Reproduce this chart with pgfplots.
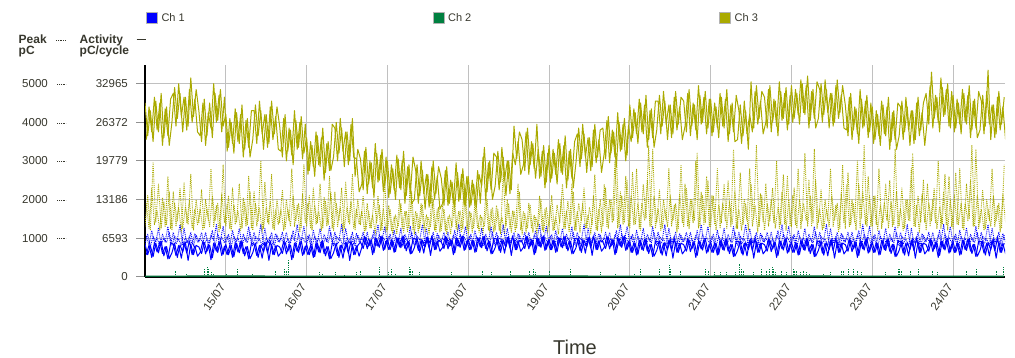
\documentclass[border=0pt]{standalone}
\usepackage{fontspec}
\setmainfont{Liberation Sans}
\usepackage{pgfplots}
\pgfplotsset{compat=1.18}
\usepackage{pgfplotstable}
\definecolor{chone}{RGB}{0,0,255}
\definecolor{chtwo}{RGB}{0,128,64}
\definecolor{chthree}{RGB}{170,170,0}
\definecolor{txt}{RGB}{55,55,45}
\definecolor{gridc}{RGB}{192,192,192}
\newcommand\ydots{\raisebox{3pt}{\tikz\draw[txt, line width=0.6pt, dash pattern=on 0.6pt off 1.2pt] (0pt,0pt)--(9pt,0pt);}}
\newcommand\ylab[3]{\makebox[33pt][r]{#1}\hspace{9pt}\makebox[9pt][l]{#2}\makebox[62pt][r]{#3}}
% samples every 48 min from 14/07 00:00 (table A) and 24 min later (table B)
% columns: a3 = Ch 3 activity (on the Peak scale), p3 = Ch 3 peak, a1 = Ch 1 activity, p1 = Ch 1 peak
\pgfplotstableread{
a3 p3 a1 p1
4500 1300 840 850
3650 2100 570 1100
4300 1200 800 780
3500 2950 520 1050
4550 1400 870 900
3750 2400 620 1250
4750 1250 920 820
3600 1950 540 1000
4400 1350 780 880
3400 2200 470 1150
4000 1200 620 800
4900 1900 870 1050
4100 1450 500 950
4750 2300 820 1350
3750 1250 640 830
4650 1800 900 1000
3900 1350 420 870
5150 2650 840 1150
4150 1200 570 790
4850 2000 810 1080
4300 1400 770 900
3500 2250 600 1150
4600 1250 890 820
3650 1750 660 980
4500 1300 820 860
3600 2100 490 1200
4750 1450 860 800
4050 1900 630 1100
4850 1250 930 940
3900 2900 580 1300
4200 1300 840 850
3350 2100 570 1100
4000 1200 800 780
3200 1850 520 1050
4250 1400 870 900
3450 2400 620 1250
4450 1250 920 820
3300 1950 540 1000
4100 1350 780 880
3100 2200 470 1150
3550 1200 620 800
4450 1900 870 1050
3650 1450 500 950
4300 3000 820 1350
3300 1250 640 830
4200 1800 900 1000
3450 1350 420 870
4550 2650 840 1150
3700 1200 570 790
4400 2000 810 1080
3900 1400 770 900
3100 2250 600 1150
4200 1250 890 820
3250 1750 660 980
3800 1300 820 860
2900 2100 490 1200
4050 1450 860 800
3350 1900 630 1100
4150 1250 930 940
3200 2900 580 1300
3600 1300 840 850
2750 2100 570 1100
3400 1200 800 780
2600 1850 520 1050
3650 1400 870 900
2850 2400 620 1250
3850 1250 920 820
2700 1950 540 1000
3500 1350 780 880
2750 2200 470 1150
3100 1200 620 800
4000 1900 870 1050
3200 1450 500 950
3850 2300 820 1350
2850 1250 640 830
3750 1800 900 1000
3000 1350 420 870
4100 2650 840 1150
2600 1200 570 790
3300 2000 810 1080
3050 1350 900 900
2250 2100 730 1150
3350 1200 1020 820
2400 1700 790 980
2950 1250 950 860
2050 2000 620 1200
3200 1400 990 800
2500 1850 760 1100
3300 1200 1060 940
2350 2500 710 1300
3000 1200 970 850
2150 1750 700 1100
2800 1100 930 780
2000 1600 650 1050
3050 1300 1000 900
2250 1900 750 1250
3250 1150 1050 820
2100 1700 670 1000
2900 1250 910 880
1900 2200 600 1150
2000 1100 750 800
2900 1650 1000 1050
2100 1250 630 950
2750 1850 950 1350
1750 1150 770 830
2650 1550 1030 1000
1900 1300 550 870
3000 2000 970 1150
2150 1150 700 790
2850 1800 940 1080
2550 1200 900 900
1850 1750 730 1150
2850 1100 1020 820
1900 1600 790 980
2450 1300 950 860
1800 1900 620 1200
2700 1150 990 800
2000 1700 760 1100
2800 1250 1060 940
1850 2200 710 1300
2600 1100 970 850
1850 1650 700 1100
2400 1250 930 780
1800 1850 650 1050
2650 1150 1000 900
2350 1550 750 1250
3350 1300 1050 820
2200 2000 670 1000
3000 1150 910 880
2000 1800 600 1150
2350 1200 750 800
3250 1750 1000 1050
2450 1100 630 950
3100 2700 950 1350
2100 1300 770 830
3000 1900 1030 1000
2250 1150 550 870
3900 1700 970 1150
3050 1250 700 790
3750 2200 940 1080
3550 1100 900 900
2750 1650 730 1150
3850 1250 1020 820
2900 1850 790 980
3450 1150 950 860
2550 1550 620 1200
3300 1300 990 800
2600 2000 760 1100
3400 1150 1060 940
2450 1800 710 1300
3400 1300 970 850
2550 2100 700 1100
3200 1200 930 780
2400 1850 650 1050
3450 1400 1000 900
2650 2400 750 1250
3650 1250 1050 820
2500 1950 670 1000
3300 1350 910 880
2300 2200 600 1150
2950 1200 750 800
3850 1900 1000 1050
3050 1450 630 950
3700 2300 950 1350
2700 1250 770 830
3600 1800 1030 1000
2850 1350 550 870
3950 2650 970 1150
3100 1200 700 790
3800 2000 940 1080
3850 1300 900 900
3050 2300 730 1150
4150 1250 1020 820
3200 2000 790 980
3750 1450 950 860
2850 3200 620 1200
4000 1300 990 800
3300 2100 760 1100
4100 1400 1060 940
3150 2500 710 1300
4450 1250 900 850
3600 2700 630 1100
4250 1350 860 780
3450 1900 580 1050
4500 1200 930 900
3700 2400 680 1250
4700 1500 980 820
3550 3400 600 1000
4350 1300 840 880
3350 2100 530 1150
3800 1400 680 800
4700 2250 930 1050
3900 1250 560 950
4550 1750 880 1350
3550 1300 700 830
4450 2100 960 1000
3700 1450 480 870
4800 1900 900 1150
3950 1250 630 790
4650 2900 870 1080
4550 1300 830 900
3750 2300 660 1150
4850 1250 950 820
3900 2000 720 980
4450 1450 880 860
3550 3200 550 1200
4700 1300 920 800
4000 2100 690 1100
4800 1400 990 940
3850 2500 640 1300
4600 1300 900 850
3750 2100 630 1100
4400 1200 860 780
3600 1850 580 1050
4650 1400 930 900
3850 2400 680 1250
4850 1250 980 820
3700 1950 600 1000
4500 1350 840 880
3500 2200 530 1150
3550 1250 680 800
4450 2700 930 1050
3650 1350 560 950
4300 1900 880 1350
3300 1200 700 830
5050 2400 960 1000
3850 1500 480 870
4950 3400 900 1150
4100 1300 630 790
4800 2100 870 1080
4650 1200 830 900
3850 1900 660 1150
4950 1450 950 820
4000 2300 720 980
4550 1250 880 860
3650 1800 550 1200
4800 1350 920 800
4100 2650 690 1100
4900 1200 990 940
3950 2000 640 1300
4950 1300 900 850
4100 2300 630 1100
4750 1250 860 780
3950 2000 580 1050
5000 1450 930 900
4200 3200 680 1250
5200 1300 980 820
4050 2100 600 1000
4850 1400 840 880
3850 2500 530 1150
4100 1400 680 800
5000 2250 930 1050
4200 1250 560 950
4850 1750 880 1350
3850 1300 700 830
4750 2100 960 1000
4000 1450 480 870
5100 1900 900 1150
4250 1250 630 790
4950 2900 870 1080
4450 1250 830 900
3650 2700 660 1150
4750 1350 950 820
3800 1900 720 980
4350 1200 880 860
3450 2400 550 1200
4600 1500 920 800
3900 3400 690 1100
4700 1300 990 940
3750 2100 640 1300
4400 1300 900 850
3550 2100 630 1100
4200 1200 860 780
3400 1850 580 1050
4450 1400 930 900
3650 2400 680 1250
4650 1250 980 820
3500 1950 600 1000
4300 1350 840 880
3300 2200 530 1150
3650 1300 680 800
4550 2300 930 1050
3750 1250 560 950
4400 2000 880 1350
3400 1450 700 830
4300 3200 960 1000
3550 1300 480 870
4650 2100 900 1150
3800 1400 630 790
4500 2500 870 1080
4750 1200 830 900
3950 1900 660 1150
5300 1450 950 820
4100 2300 720 980
4650 1250 880 860
3750 1800 550 1200
4900 1350 920 800
4200 2650 690 1100
5000 1200 990 940
3850 2000 640 1300
4700 1250 900 850
3850 2700 630 1100
4500 1350 860 780
3700 1900 580 1050
4750 1200 930 900
3950 2400 680 1250
4950 1500 980 820
3800 3400 600 1000
4600 1300 840 880
3600 2100 530 1150
3800 1400 680 800
4700 2250 930 1050
3900 1250 560 950
5350 1750 880 1350
3550 1300 700 830
4450 2100 960 1000
3700 1450 480 870
4800 1900 900 1150
3950 1250 630 790
4650 2900 870 1080
}\chdata
\pgfplotstableread{
a3 p3 a1 p1
3550 1900 570 1050
4400 1250 820 820
3750 2300 500 1200
4650 1350 880 880
3800 1700 640 1000
4500 1200 910 790
3400 2050 600 1100
4350 1300 780 900
3650 2600 460 1300
4600 1250 860 840
4750 2200 850 1150
3900 1300 550 850
5000 1800 810 980
4150 1150 480 800
4650 2450 890 1250
3800 1400 610 870
4850 1950 930 1050
4000 1250 570 830
4600 1750 800 1120
3750 1350 530 900
3650 1750 630 1000
4500 1200 920 870
3400 2000 590 1150
4250 1450 830 810
3850 2800 440 1080
5000 1300 870 930
4000 1850 660 1350
4700 1150 900 850
3750 2150 550 1020
4650 1400 790 880
3250 1900 570 1050
4100 1250 820 820
3450 2300 500 1200
4350 1350 880 880
3500 1700 640 1000
4200 1200 910 790
3100 2050 600 1100
4050 1300 780 900
3350 2600 460 1300
4300 1250 860 840
4300 2200 850 1150
3450 1300 550 850
4550 1800 810 980
3700 1150 480 800
4200 2450 890 1250
3350 1400 610 870
4400 1950 930 1050
3550 1250 570 830
4150 1750 800 1120
3300 1350 530 900
3250 1750 630 1000
4100 1200 920 870
3000 2000 590 1150
3850 1450 830 810
3150 2800 440 1080
4300 1300 870 930
3300 1850 660 1350
4000 1150 900 850
3050 2150 550 1020
3950 1400 790 880
2650 1900 570 1050
3500 1250 820 820
2850 2300 500 1200
3750 1350 880 880
2900 1700 640 1000
3600 1200 910 790
2500 2050 600 1100
3450 1300 780 900
2750 2600 460 1300
3950 1250 860 840
3850 2200 850 1150
3000 1300 550 850
4100 1800 810 980
3250 1150 480 800
3750 2450 890 1250
2900 1400 610 870
3950 1950 930 1050
3100 1250 570 830
3050 1750 800 1120
2200 1350 530 900
2400 1700 760 1000
3250 1150 1050 870
2150 1900 720 1150
3000 1250 960 810
2300 1600 570 1080
3450 1100 1000 930
2450 2100 790 1350
3150 1200 1030 850
2200 1750 680 1020
3100 1150 920 880
2050 1850 700 1050
2900 1200 950 820
2250 1550 630 1200
3150 1100 1010 880
2300 2000 770 1000
3000 1250 1040 790
1900 1700 730 1100
2850 1150 910 900
2150 2400 590 1300
3100 1200 990 840
2750 1700 980 1150
1900 1150 680 850
3000 1900 940 980
2150 1250 610 800
2650 1600 1020 1250
1800 1100 740 870
2850 2100 1060 1050
2000 1200 700 830
2600 1750 930 1120
1750 1150 660 900
1900 1850 760 1000
2750 1200 1050 870
1850 1550 720 1150
2500 1100 960 810
1900 2000 570 1080
2950 1250 1000 930
1950 1700 790 1350
2650 1150 1030 850
1850 2400 680 1020
2600 1200 920 880
1800 1700 700 1050
2500 1150 950 820
1850 1900 630 1200
2750 1250 1010 880
1900 1600 770 1000
3100 1100 1040 790
2000 2100 730 1100
2950 1200 910 900
2250 1750 590 1300
3200 1150 990 840
3100 1850 980 1150
2250 1200 680 850
3350 1550 940 980
2500 1100 610 800
3000 2000 1020 1250
2150 1250 740 870
3200 1700 1060 1050
2900 1150 700 830
3500 2400 930 1120
2650 1200 660 900
2900 1700 760 1000
3750 1150 1050 870
2650 1900 720 1150
3500 1250 960 810
2800 1600 570 1080
3950 1100 1000 930
2550 2100 790 1350
3250 1200 1030 850
2300 1750 680 1020
3200 1150 920 880
2450 1850 700 1050
3300 1200 950 820
2650 1550 630 1200
3550 1100 1010 880
2700 2000 770 1000
3400 1250 1040 790
2300 1700 730 1100
3250 1150 910 900
2550 2400 590 1300
3500 1200 990 840
3700 1700 980 1150
2850 1150 680 850
3950 1900 940 980
3100 1250 610 800
3600 1600 1020 1250
2750 1100 740 870
3800 2100 1060 1050
2950 1200 700 830
3550 1750 930 1120
2700 1150 660 900
3200 2400 760 1000
4050 1300 1050 870
2950 2000 720 1150
3800 1400 960 810
3100 3000 570 1080
4250 1250 1000 930
3250 2200 790 1350
3950 1350 1030 850
3000 2600 680 1020
3900 1300 920 880
3500 2100 630 1050
4350 1350 880 820
3700 2800 560 1200
4600 1250 940 880
3750 1900 700 1000
4450 1450 970 790
3350 2500 660 1100
4300 1300 840 900
3600 3300 520 1300
4550 1250 920 840
4550 1750 910 1150
3700 1200 610 850
4800 2000 870 980
3950 1450 540 800
4450 2800 950 1250
3600 1300 670 870
4650 1850 990 1050
3800 1150 630 830
4400 2150 860 1120
3550 1400 590 900
3900 2400 690 1000
4750 1300 980 870
3650 2000 650 1150
4500 1400 890 810
3800 3000 500 1080
4950 1250 930 930
3950 2200 720 1350
4650 1350 960 850
3700 2600 610 1020
4600 1300 850 880
3650 2100 630 1050
4500 1350 880 820
3850 2800 560 1200
4750 1250 940 880
3900 1900 700 1000
4600 1450 970 790
3500 2500 660 1100
4450 1300 840 900
3750 3300 520 1300
4700 1250 920 840
4300 1750 910 1150
3450 1200 610 850
4550 2000 870 980
3700 1450 540 800
4200 2800 950 1250
3750 1300 670 870
4800 1850 990 1050
3950 1150 630 830
4550 2150 860 1120
3700 1400 590 900
4000 2400 690 1000
4850 1300 980 870
3750 2000 650 1150
4600 1400 890 810
3900 3000 500 1080
5050 1250 930 930
4050 2200 720 1350
4750 1350 960 850
3800 2600 610 1020
4700 1300 850 880
4000 2100 630 1050
4850 1350 880 820
4200 2800 560 1200
5100 1250 940 880
4250 1900 700 1000
4950 1450 970 790
3850 2500 660 1100
4800 1300 840 900
4100 3300 520 1300
5050 1250 920 840
4850 1750 910 1150
4000 1200 610 850
5100 2000 870 980
4250 1450 540 800
4750 2800 950 1250
3900 1300 670 870
4950 1850 990 1050
4100 1150 630 830
4700 2150 860 1120
3850 1400 590 900
3800 2400 690 1000
4650 1300 980 870
3550 2000 650 1150
4400 1400 890 810
3700 3000 500 1080
4850 1250 930 930
3850 2200 720 1350
4550 1350 960 850
3600 2600 610 1020
4500 1300 850 880
3450 2100 630 1050
4300 1350 880 820
3650 2800 560 1200
4550 1250 940 880
3700 1900 700 1000
4400 1450 970 790
3300 2500 660 1100
4250 1300 840 900
3550 3300 520 1300
4500 1250 920 840
4400 1750 910 1150
3550 1200 610 850
4650 2000 870 980
3800 1450 540 800
4300 2800 950 1250
3450 1300 670 870
4500 1850 990 1050
3650 1150 630 830
4250 2150 860 1120
3400 1400 590 900
4100 2400 690 1000
4950 1300 980 870
3850 2000 650 1150
4700 1400 890 810
4000 3000 500 1080
5150 1250 930 930
4150 2200 720 1350
4850 1350 960 850
3900 2600 610 1020
4800 1300 850 880
3750 2100 630 1050
4600 1350 880 820
3950 2800 560 1200
4850 1250 940 880
4000 1900 700 1000
4700 1450 970 790
3600 2500 660 1100
4550 1300 840 900
3850 3300 520 1300
4800 1250 920 840
4550 1750 910 1150
3700 1200 610 850
4800 2000 870 980
3950 1450 540 800
4450 2800 950 1250
3600 1300 670 870
4650 1850 990 1050
3800 1150 630 830
4400 2150 860 1120
3550 1400 590 900
}\chdatab
\begin{document}
\begin{tikzpicture}[x=1pt,y=1pt]
\path[use as bounding box] (0,0) rectangle (1015,357);
\begin{axis}[
  at={(145pt,80.3pt)}, anchor=south west,
  scale only axis, width=860pt, height=211.7pt,
  xmin=14, xmax=24.643, ymin=0, ymax=5484,
  axis x line*=bottom, axis y line*=left,
  axis line style={-, black, line width=1.6pt},
  xtick={15,16,...,24},
  xticklabels={15/07,16/07,17/07,18/07,19/07,20/07,21/07,22/07,23/07,24/07},
  ytick={0,1000,...,5000},
  yticklabels={\ylab{}{}{0},\ylab{1000}{\ydots}{6593},\ylab{2000}{\ydots}{13186},\ylab{3000}{\ydots}{19779},\ylab{4000}{\ydots}{26372},\ylab{5000}{\ydots}{32965}},
  grid=major, grid style={gridc, line width=0.9pt},
  tick align=outside, major tick length=9pt,
  xtick style={draw=none},
  ytick style={gridc!75!black, line width=0.9pt},
  yticklabel style={anchor=east, inner sep=0pt, xshift=-8pt, text=txt, font=\fontsize{11.5}{12}\selectfont},
  xticklabel style={rotate=55, anchor=east, inner sep=0pt, xshift=-1.5pt, yshift=3pt, text=txt, font=\fontsize{11.5}{12}\selectfont},
  xlabel={Time},
  xlabel style={at={(axis description cs:0.5,0)}, anchor=base, yshift=-77.8pt, text=txt, font=\fontsize{20}{22}\selectfont},
  legend columns=3,
  legend style={draw=none, fill=none, at={(axis description cs:0,1)}, anchor=west, xshift=0.7pt, yshift=47.2pt, inner sep=0pt, column sep=0pt, nodes={inner sep=0pt, text=txt, font=\fontsize{11}{12}\selectfont}},
  legend cell align=left,
  legend image code/.code={\draw[#1, draw=gray!60, line width=0.6pt, solid] (0pt,-5.5pt) rectangle (11pt,5.5pt);},
  line join=round,
]
\addlegendimage{fill=chone}
\addlegendentry{\makebox[275pt][l]{\hspace{4pt}Ch 1}}
\addlegendimage{fill=chtwo}
\addlegendentry{\makebox[275pt][l]{\hspace{4pt}Ch 2}}
\addlegendimage{fill=chthree}
\addlegendentry{\makebox[275pt][l]{\hspace{4pt}Ch 3}}

\addplot[forget plot, chthree, line width=0.9pt, dash pattern=on 0.9pt off 1pt] table[x expr=14+\coordindex/30, y=p3] {\chdata};
\addplot[forget plot, chthree, line width=0.9pt, dash pattern=on 0.9pt off 1pt] table[x expr=14+1/60+\coordindex/30, y=p3] {\chdatab};
\addplot[forget plot, chthree, line width=1pt] table[x expr=14+\coordindex/30, y=a3] {\chdata};
\addplot[forget plot, chthree, line width=1pt] table[x expr=14+1/60+\coordindex/30, y=a3] {\chdatab};
\addplot[forget plot, chone, line width=0.9pt, dash pattern=on 0.9pt off 1pt] table[x expr=14+\coordindex/30, y=p1] {\chdata};
\addplot[forget plot, chone, line width=0.9pt, dash pattern=on 0.9pt off 1pt] table[x expr=14+1/60+\coordindex/30, y=p1] {\chdatab};
\addplot[forget plot, chone, line width=1pt] table[x expr=14+\coordindex/30, y=a1] {\chdata};
\addplot[forget plot, chone, line width=1pt] table[x expr=14+1/60+\coordindex/30, y=a1] {\chdatab};
\addplot[forget plot, chtwo, ycomb, line width=0.7pt, dash pattern=on 0.8pt off 1pt] coordinates {
(14.08,43) (14.37,155) (14.51,86) (14.74,224) (14.77,242) (14.79,198) (14.82,112) (14.84,86)
(15.01,69) (15.14,198) (15.33,86) (15.61,155) (15.73,198) (15.75,173) (15.78,430)
(16.16,129) (16.20,86) (16.35,112) (16.47,52) (16.62,112) (16.66,155) (16.90,259)
(17.01,112) (17.05,198) (17.10,86) (17.27,242) (17.29,224) (17.31,155) (17.40,112) (17.79,129)
(18.17,173) (18.29,138) (18.52,155) (18.76,155) (18.80,198) (18.83,112)
(19.01,173) (19.26,224) (19.63,112) (19.82,86)
(20.06,86) (20.13,224) (20.37,198) (20.49,311) (20.50,198) (20.62,155) (20.93,198) (20.97,173)
(21.05,138) (21.12,138) (21.20,138) (21.30,112) (21.36,328) (21.38,198) (21.40,173) (21.53,138)
(21.63,198) (21.69,173) (21.73,224) (21.76,242) (21.78,198) (21.80,112) (21.88,173) (21.94,138)
(22.02,198) (22.04,173) (22.06,155) (22.11,138) (22.15,155) (22.19,112) (22.22,86) (22.39,86)
(22.48,112) (22.62,155) (22.64,173) (22.70,198) (22.77,224) (22.81,173) (22.87,112)
(23.16,112) (23.32,224) (23.34,198) (23.36,155) (23.47,173) (23.57,198) (23.74,173) (23.80,112)
(24.17,155) (24.29,198) (24.54,155) (24.62,242)
};
\addplot[forget plot, chtwo!80!black, line width=1.4pt] coordinates {
(14,12) (15,14) (16,12) (17,13) (18,12) (19,14) (20,12) (21,13) (22,14) (23,12) (24,13) (24.633,12)
};
\end{axis}
\node[anchor=base west, inner sep=0pt, text=txt, font=\bfseries\fontsize{12}{12}\selectfont] at (18.5,313.5) {Peak};
\node[anchor=base west, inner sep=0pt, text=txt, font=\bfseries\fontsize{12}{12}\selectfont] at (18.5,302.7) {pC};
\node[anchor=base west, inner sep=0pt, text=txt, font=\bfseries\fontsize{12}{12}\selectfont] at (79.5,313.5) {Activity};
\node[anchor=base west, inner sep=0pt, text=txt, font=\bfseries\fontsize{12}{12}\selectfont] at (79.5,302.7) {pC/cycle};
\draw[txt, line width=0.6pt, dash pattern=on 0.6pt off 1.2pt] (56,317) -- (66,317);
\draw[txt, line width=1pt] (136.5,317) -- (146,317);
\end{tikzpicture}
\end{document}
